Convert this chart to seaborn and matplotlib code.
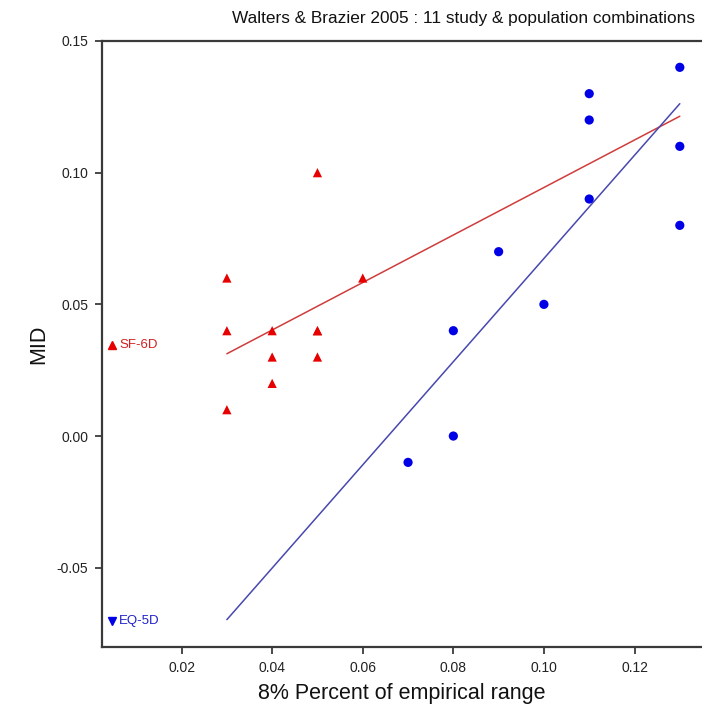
import numpy as np
import pandas as pd
import matplotlib
matplotlib.use("Agg")
import matplotlib.pyplot as plt
import seaborn as sns

# ---- data ----
sf6d_x = [0.03, 0.03, 0.03, 0.04, 0.04, 0.04, 0.05, 0.05, 0.05, 0.05, 0.06]
sf6d_y = [0.06, 0.04, 0.01, 0.04, 0.03, 0.02, 0.10, 0.04, 0.04, 0.03, 0.06]
eq5d_x = [0.07, 0.08, 0.08, 0.09, 0.10, 0.11, 0.11, 0.11, 0.13, 0.13, 0.13]
eq5d_y = [-0.01, 0.00, 0.04, 0.07, 0.05, 0.09, 0.12, 0.13, 0.14, 0.11, 0.08]
x_ticks = [0.02, 0.04, 0.06, 0.08, 0.10, 0.12]
y_ticks = [-0.05, 0.00, 0.05, 0.10, 0.15]
title = "Walters & Brazier 2005 : 11 study & population combinations"
x_label = "8% Percent of empirical range"
y_label = "MID"

sns.set_theme(style="ticks")
plt.rcParams['font.family'] = ['Liberation Sans', 'DejaVu Sans']

fig = plt.figure(figsize=(7.02, 7.17), dpi=100)
ax = fig.add_axes([102 / 702, 70 / 717, 600 / 702, 606 / 717])

pts = pd.DataFrame({
    "x": sf6d_x + eq5d_x,
    "y": sf6d_y + eq5d_y,
    "instrument": ["SF-6D"] * len(sf6d_x) + ["EQ-5D"] * len(eq5d_x),
})

red_pt, blue_pt = "#e60000", "#0000e6"
red_ln, blue_ln = "#d03c3c", "#4848b0"

sns.scatterplot(data=pts, x="x", y="y", hue="instrument", style="instrument",
                markers={"SF-6D": "^", "EQ-5D": "o"},
                palette={"SF-6D": red_pt, "EQ-5D": blue_pt},
                s=44, edgecolor="none", legend=False, ax=ax, zorder=3)

# OLS fit lines over the combined x-range
xr = np.array([min(pts["x"]), max(pts["x"])])
fits = []
for name, xs, ys in [("SF-6D", sf6d_x, sf6d_y), ("EQ-5D", eq5d_x, eq5d_y)]:
    b, a = np.polyfit(xs, ys, 1)
    fits.append(pd.DataFrame({"x": xr, "y": a + b * xr, "instrument": name}))
fit_df = pd.concat(fits, ignore_index=True)
sns.lineplot(data=fit_df, x="x", y="y", hue="instrument",
             palette={"SF-6D": red_ln, "EQ-5D": blue_ln},
             linewidth=1.1, legend=False, ax=ax, zorder=2)

# in-plot key labels
ax.plot([0.0046], [0.0345], marker="^", color=red_pt, markersize=5.5, linestyle="none")
ax.text(0.0062, 0.0345, "SF-6D", color="#d42020", fontsize=9.5, va="center", ha="left")
ax.plot([0.0046], [-0.0703], marker="v", color=blue_pt, markersize=5.5, linestyle="none")
ax.text(0.0062, -0.0703, "EQ-5D", color="#2020c8", fontsize=9.5, va="center", ha="left")

ax.set_xlim(0.00243, 0.1349)
ax.set_ylim(-0.0801, 0.15)
ax.set_xticks(x_ticks)
ax.set_xticklabels([f"{v:.2f}" for v in x_ticks])
ax.set_yticks(y_ticks)
ax.set_yticklabels([f"{v:.2f}" for v in y_ticks])

for side in ["left", "bottom", "top"]:
    ax.spines[side].set_visible(True)
    ax.spines[side].set_color("#3a3a3a")
    ax.spines[side].set_linewidth(1.6)
ax.spines["right"].set_visible(False)
ax.tick_params(axis="both", direction="out", length=5, width=1.3, color="#3a3a3a",
               labelsize=10, labelcolor="#222222", pad=5)
ax.tick_params(top=False, right=False)

ax.set_xlabel(x_label, fontsize=15.5, color="#111111", labelpad=6)
ax.set_ylabel(y_label, fontsize=15.5, color="#111111", labelpad=5)
fig.text(464 / 702, 1 - 19 / 717, title, fontsize=12.4, ha="center", va="center",
         color="#111111")

fig.savefig("out.png", dpi=100)
